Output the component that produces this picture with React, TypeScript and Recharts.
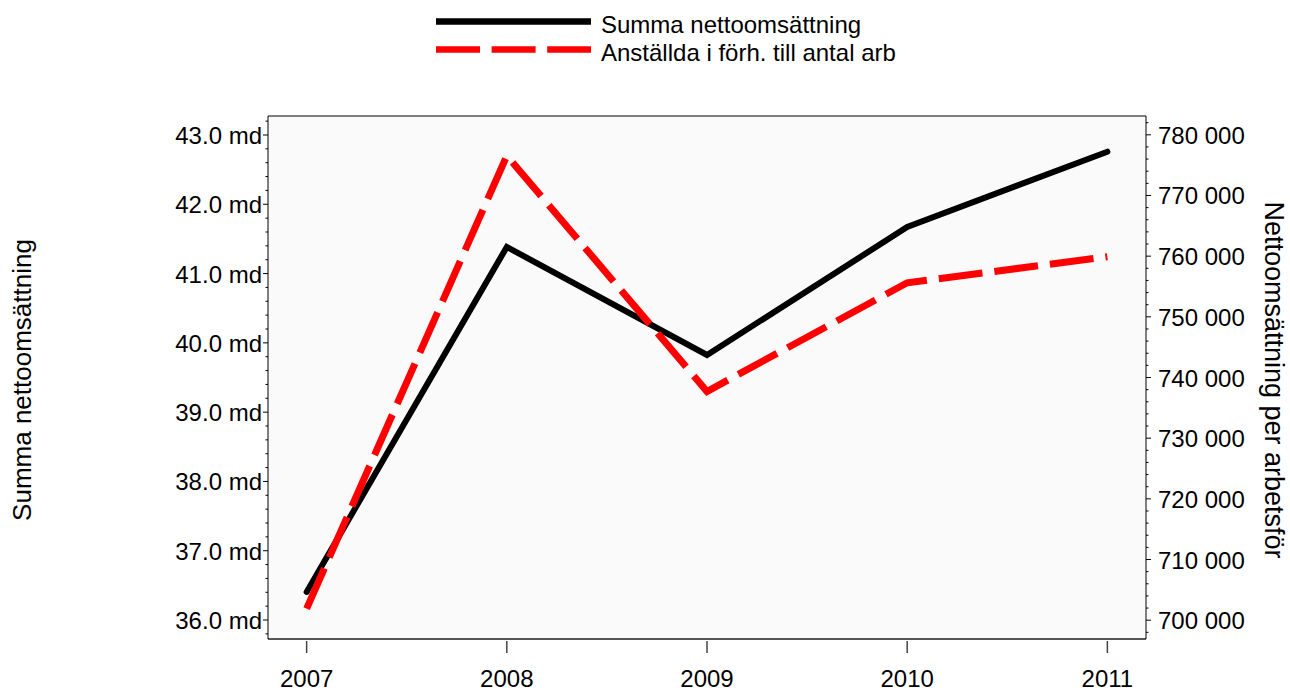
import React from "react";
import { LineChart, Line, XAxis, YAxis, CartesianGrid, ReferenceLine } from "recharts";

const years = [2007, 2008, 2009, 2010, 2011];
const summaNetto = [36.405, 41.384, 39.825, 41.672, 42.759];
const nettoPerArbetsfor = [701900, 776540, 737700, 755610, 759900];

const leftTicks = [36, 37, 38, 39, 40, 41, 42, 43];
const rightTicks = [700000, 710000, 720000, 730000, 740000, 750000, 760000, 770000, 780000];

const seriesNames = ["Summa nettoomsättning", "Anställda i förh. till antal arb"];
const axisTitles = ["Summa nettoomsättning", "Nettoomsättning per arbetsför"];

const FONT = "'Liberation Sans', Arial, sans-serif";
const W = 1290;
const H = 691;
const LEFT_DOMAIN: [number, number] = [35.726, 43.274];
const RIGHT_DOMAIN: [number, number] = [696900, 783100];
const X_DOMAIN: [number, number] = [2006.807, 2011.193];

const data = years.map((year, i) => ({
  year,
  summa: summaNetto[i],
  perArb: nettoPerArbetsfor[i],
}));

// minor ticks every 0.2 md / 2 000
const leftAll: number[] = [];
for (let i = 179; i <= 216; i++) leftAll.push(Math.round(i * 2) / 10);
const rightAll: number[] = [];
for (let i = 349; i <= 391; i++) rightAll.push(i * 2000);

function fmtThousands(v: number) {
  return String(v).replace(/\B(?=(\d{3})+(?!\d))/g, " ");
}

function LeftTick(props: any) {
  const { x, y, payload } = props;
  const v = payload.value;
  const major = leftTicks.includes(v);
  return (
    <g>
      <line x1={x - (major ? 5 : 2.5)} x2={x} y1={y} y2={y} stroke="#000" strokeWidth={1} />
      {major && (
        <text x={x - 6} y={y + 9} textAnchor="end" fontSize={24} fontFamily={FONT} fill="#000">
          {v.toFixed(1)} md
        </text>
      )}
    </g>
  );
}

function RightTick(props: any) {
  const { x, y, payload } = props;
  const v = payload.value;
  const major = rightTicks.includes(v);
  return (
    <g>
      <line x1={x} x2={x + (major ? 5 : 2.5)} y1={y} y2={y} stroke="#000" strokeWidth={1} />
      {major && (
        <text x={x + 12} y={y + 9} textAnchor="start" fontSize={24} fontFamily={FONT} fill="#000">
          {fmtThousands(v)}
        </text>
      )}
    </g>
  );
}

function BottomTick(props: any) {
  const { x, y, payload } = props;
  return (
    <g>
      <line x1={x} x2={x} y1={y + 2} y2={y + 14} stroke="#444" strokeWidth={1.5} />
      <text x={x} y={y + 48} textAnchor="middle" fontSize={24} fontFamily={FONT} fill="#000">
        {payload.value}
      </text>
    </g>
  );
}

export default function App() {
  return (
    <div style={{ position: "absolute", left: 0, top: 0, width: W, height: H, background: "#fff" }}>
      <LineChart width={W} height={H} data={data} margin={{ top: 116, right: 0, bottom: 0, left: 0 }}>
        <CartesianGrid yAxisId="left" fill="#fafafa" horizontal={false} vertical={false} />
        <XAxis
          dataKey="year"
          type="number"
          domain={X_DOMAIN}
          allowDataOverflow
          ticks={years}
          interval={0}
          height={52}
          tickSize={0}
          tickMargin={0}
          tickLine={false}
          axisLine={{ stroke: "#555", strokeWidth: 2 }}
          tick={BottomTick}
        />
        <YAxis
          yAxisId="left"
          type="number"
          domain={LEFT_DOMAIN}
          allowDataOverflow
          ticks={leftAll}
          interval={0}
          width={268}
          tickSize={0}
          tickMargin={0}
          tickLine={false}
          axisLine={{ stroke: "#000", strokeWidth: 1 }}
          tick={LeftTick}
        />
        <YAxis
          yAxisId="right"
          orientation="right"
          type="number"
          domain={RIGHT_DOMAIN}
          allowDataOverflow
          ticks={rightAll}
          interval={0}
          width={144}
          tickSize={0}
          tickMargin={0}
          tickLine={false}
          axisLine={{ stroke: "#000", strokeWidth: 1 }}
          tick={RightTick}
        />
        {/* top border of the plot frame */}
        <ReferenceLine yAxisId="left" y={LEFT_DOMAIN[1]} stroke="#000" strokeWidth={1} ifOverflow="visible" />
        <Line
          yAxisId="left"
          dataKey="summa"
          name={seriesNames[0]}
          stroke="#000"
          strokeWidth={6}
          strokeLinecap="round"
          strokeLinejoin="miter"
          dot={false}
          activeDot={false}
          isAnimationActive={false}
        />
        <Line
          yAxisId="right"
          dataKey="perArb"
          name={seriesNames[1]}
          stroke="#ff0000"
          strokeWidth={7}
          strokeDasharray="44 12"
          strokeLinejoin="miter"
          dot={false}
          activeDot={false}
          isAnimationActive={false}
        />
      </LineChart>
      <svg
        width={W}
        height={H}
        style={{ position: "absolute", left: 0, top: 0, pointerEvents: "none" }}
        fontFamily={FONT}
      >
        <line x1={436} x2={591} y1={21.5} y2={21.5} stroke="#000" strokeWidth={6.5} />
        <text x={601} y={33} fontSize={24} fill="#000">
          {seriesNames[0]}
        </text>
        <line x1={436} x2={591} y1={49.5} y2={49.5} stroke="#ff0000" strokeWidth={6.5} strokeDasharray="44 11.6" />
        <text x={601} y={61} fontSize={24} fill="#000">
          {seriesNames[1]}
        </text>
        <text x={31} y={380} transform="rotate(-90 31 380)" textAnchor="middle" fontSize={26} fill="#000">
          {axisTitles[0]}
        </text>
        <text x={1265} y={380} transform="rotate(90 1265 380)" textAnchor="middle" fontSize={27} fill="#000">
          {axisTitles[1]}
        </text>
      </svg>
    </div>
  );
}
